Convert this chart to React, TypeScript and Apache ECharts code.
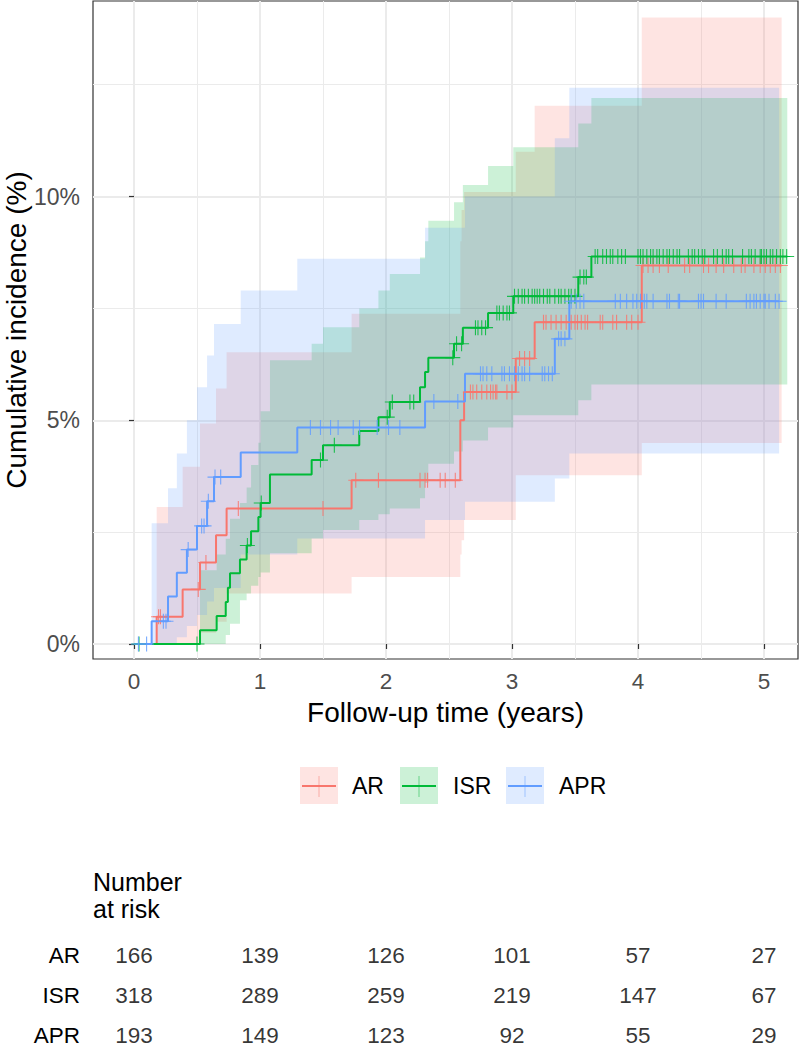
import React, { useEffect, useRef } from 'react';
import * as echarts from 'echarts';

const FONT = '"Liberation Sans", Arial, Helvetica, sans-serif';

const GROUPS = ['AR', 'ISR', 'APR'];
const COLORS = ['#F8766D', '#00BA38', '#619CFF'];
const BAND_FILLS = ['rgba(248,118,109,0.2)', 'rgba(0,186,56,0.2)', 'rgba(97,156,255,0.2)'];

const X_TICKS = [0, 1, 2, 3, 4, 5];
const X_MINOR = [0.5, 1.5, 2.5, 3.5, 4.5];
const Y_TICKS = [0, 5, 10];
const Y_MINOR = [2.5, 7.5, 12.5];
const X_MIN = -0.3254;
const X_MAX = 5.27;
const Y_MIN = -0.335;
const Y_MAX = 14.37;

// Step curves (time in years, cumulative incidence in %)
const AR_T = [0, 0.18, 0.386, 0.524, 0.651, 0.735, 1.727, 2.59, 2.62, 3.03, 3.18, 4.03, 5.14];
const AR_EST = [0, 0.61, 1.22, 1.82, 2.43, 3.03, 3.66, 5.0, 5.63, 6.38, 7.19, 8.46, 8.46];
const ISR_T = [0, 0.524, 0.656, 0.728, 0.745, 0.762, 0.841, 0.894, 0.929, 0.987, 1.005, 1.079, 1.41, 1.5, 1.788, 1.94, 2.03, 2.27, 2.31, 2.336, 2.54, 2.61, 2.81, 3.01, 3.526, 3.63, 5.185];
const ISR_EST = [0, 0.31, 0.625, 0.94, 1.26, 1.58, 1.89, 2.2, 2.52, 2.84, 3.15, 3.79, 4.11, 4.44, 4.76, 5.07, 5.41, 5.74, 6.08, 6.4, 6.71, 7.07, 7.4, 7.77, 8.2, 8.66, 8.66];
const APR_T = [0, 0.14, 0.27, 0.34, 0.42, 0.5, 0.58, 0.635, 0.847, 1.296, 2.31, 2.627, 3.34, 3.455, 5.12];
const APR_EST = [0, 0.51, 1.06, 1.59, 2.11, 2.64, 3.19, 3.73, 4.28, 4.84, 5.42, 6.04, 6.82, 7.66, 7.66];

// Confidence bands (step after), last time = end of band
const AR_BAND_T = [0.18, 0.386, 0.524, 0.651, 0.735, 1.727, 2.59, 2.6, 2.62, 3.03, 3.18, 4.03, 5.14];
const AR_BAND_LO = [0, 0, 0.25, 0.5, 1.13, 1.5, 2.0, 2.32, 2.77, 3.77, 3.77, 4.49, 4.49];
const AR_BAND_HI = [3.06, 3.96, 4.93, 5.71, 6.52, 7.38, 9.0, 9.7, 10.1, 11.0, 12.03, 14.0, 14.0];
const ISR_BAND_T = [0.524, 0.656, 0.728, 0.762, 0.841, 0.894, 0.929, 0.987, 1.005, 1.079, 1.41, 1.5, 1.788, 1.94, 2.03, 2.27, 2.31, 2.336, 2.54, 2.61, 2.81, 3.01, 3.526, 3.63, 5.185];
const ISR_BAND_LO = [0, 0, 0.2, 0.45, 0.98, 1.13, 1.3, 1.5, 1.6, 2.03, 2.36, 2.55, 2.77, 2.9, 3.03, 3.26, 3.6, 4.03, 4.3, 4.55, 4.84, 5.11, 5.45, 5.8, 5.8];
const ISR_BAND_HI = [1.65, 2.0, 2.35, 2.8, 3.15, 3.5, 4.0, 4.5, 5.2, 6.34, 6.71, 7.08, 7.5, 7.9, 8.27, 8.64, 9.0, 9.46, 9.87, 10.26, 10.68, 11.1, 11.63, 12.2, 12.2];
const APR_BAND_T = [0.14, 0.27, 0.34, 0.42, 0.5, 0.58, 0.635, 0.847, 1.296, 2.31, 2.627, 3.34, 3.455, 5.12];
const APR_BAND_LO = [0, 0, 0.15, 0.4, 0.65, 0.95, 1.25, 2.0, 2.36, 2.77, 3.18, 3.7, 4.26, 4.26];
const APR_BAND_HI = [2.7, 3.48, 4.26, 5.0, 5.74, 6.45, 7.15, 7.9, 8.61, 9.3, 10.0, 11.3, 12.43, 12.43];

// Censoring times
const AR_CENS = [0.195, 0.21, 0.51, 0.571, 0.828, 1.5, 1.76, 1.94, 2.27, 2.31, 2.33, 2.43, 2.47, 2.55, 2.67, 2.69, 2.72, 2.76, 2.8, 2.83, 2.85, 2.87, 2.88, 2.96, 3.0, 3.06, 3.1, 3.14, 3.25, 3.27, 3.31, 3.35, 3.39, 3.43, 3.47, 3.5, 3.52, 3.55, 3.58, 3.6, 3.7, 3.72, 3.8, 3.83, 3.91, 3.95, 4.0, 4.04, 4.08, 4.12, 4.17, 4.24, 4.37, 4.41, 4.52, 4.56, 4.62, 4.68, 4.76, 4.82, 4.85, 4.92, 4.97, 5.01, 5.05, 5.09, 5.13];
const ISR_CENS = [0.04, 0.5, 0.9, 1.01, 1.48, 1.59, 2.01, 2.05, 2.19, 2.22, 2.53, 2.56, 2.6, 2.71, 2.73, 2.76, 2.79, 2.88, 2.9, 2.93, 2.96, 2.98, 3.02, 3.05, 3.08, 3.1, 3.13, 3.16, 3.18, 3.2, 3.22, 3.25, 3.28, 3.3, 3.34, 3.37, 3.39, 3.42, 3.45, 3.47, 3.5, 3.54, 3.57, 3.59, 3.66, 3.68, 3.72, 3.75, 3.78, 3.8, 3.84, 3.87, 3.9, 4.0, 4.02, 4.04, 4.07, 4.1, 4.12, 4.15, 4.17, 4.2, 4.23, 4.25, 4.28, 4.31, 4.33, 4.4, 4.43, 4.45, 4.48, 4.51, 4.53, 4.6, 4.63, 4.67, 4.7, 4.72, 4.75, 4.83, 4.88, 4.9, 4.93, 4.97, 4.98, 5.0, 5.02, 5.05, 5.07, 5.1, 5.13, 5.15, 5.18];
const APR_CENS = [0.035, 0.1, 0.233, 0.254, 0.43, 0.537, 0.556, 0.59, 0.643, 0.688, 1.4, 1.48, 1.56, 1.62, 1.74, 1.79, 1.93, 2.02, 2.11, 2.38, 2.57, 2.75, 2.77, 2.8, 2.84, 2.92, 2.94, 2.98, 3.02, 3.05, 3.08, 3.1, 3.14, 3.24, 3.26, 3.29, 3.32, 3.37, 3.39, 3.42, 3.47, 3.51, 3.54, 3.57, 3.82, 3.86, 3.91, 3.96, 3.99, 4.02, 4.05, 4.07, 4.12, 4.23, 4.25, 4.32, 4.33, 4.48, 4.5, 4.52, 4.62, 4.7, 4.86, 4.89, 4.92, 4.94, 4.97, 5.0, 5.01, 5.04, 5.09, 5.12];

// Number at risk
const RISK_TIMES = [0, 1, 2, 3, 4, 5];
const AR_RISK = [166, 139, 126, 101, 57, 27];
const ISR_RISK = [318, 289, 259, 219, 147, 67];
const APR_RISK = [193, 149, 123, 92, 55, 29];

const CURVES = [
  { t: AR_T, est: AR_EST, bt: AR_BAND_T, lo: AR_BAND_LO, hi: AR_BAND_HI, cens: AR_CENS, risk: AR_RISK },
  { t: ISR_T, est: ISR_EST, bt: ISR_BAND_T, lo: ISR_BAND_LO, hi: ISR_BAND_HI, cens: ISR_CENS, risk: ISR_RISK },
  { t: APR_T, est: APR_EST, bt: APR_BAND_T, lo: APR_BAND_LO, hi: APR_BAND_HI, cens: APR_CENS, risk: APR_RISK },
];

function stepValue(ts: number[], vs: number[], t: number) {
  let v = vs[0];
  for (let i = 0; i < ts.length; i++) {
    if (ts[i] <= t) v = vs[i];
  }
  return v;
}

export default function App() {
  const ref = useRef<HTMLDivElement>(null);
  useEffect(() => {
    if (!ref.current) return;
    const chart = echarts.init(ref.current, null, { renderer: 'svg' });

    const bandSeries = CURVES.map((c, gi) => ({
      type: 'custom',
      name: GROUPS[gi] + ' CI',
      xAxisIndex: 0,
      yAxisIndex: 0,
      coordinateSystem: 'cartesian2d',
      silent: true,
      clip: true,
      z: 2,
      data: [[0, 0]],
      encode: { x: 0, y: 1 },
      renderItem: (params: any, api: any) => {
        const upper: number[][] = [];
        const lower: number[][] = [];
        for (let i = 0; i < c.bt.length - 1; i++) {
          const t0 = c.bt[i];
          const t1 = c.bt[i + 1];
          upper.push(api.coord([t0, c.hi[i]]), api.coord([t1, c.hi[i]]));
          lower.push(api.coord([t0, c.lo[i]]), api.coord([t1, c.lo[i]]));
        }
        const points = upper.concat(lower.reverse());
        return { type: 'polygon', shape: { points }, style: { fill: BAND_FILLS[gi], stroke: null } };
      },
    }));

    const lineSeries = CURVES.map((c, gi) => ({
      type: 'line',
      name: GROUPS[gi],
      xAxisIndex: 0,
      yAxisIndex: 0,
      step: 'end',
      showSymbol: false,
      silent: true,
      z: 3,
      lineStyle: { color: COLORS[gi], width: 2 },
      data: c.t.map((t, i) => [t, c.est[i]]),
    }));

    const censSeries = CURVES.map((c, gi) => ({
      type: 'scatter',
      name: GROUPS[gi] + ' censored',
      xAxisIndex: 0,
      yAxisIndex: 0,
      silent: true,
      z: 4,
      symbol: 'path://M5,0L5,10M0,5L10,5',
      symbolSize: 15,
      itemStyle: { color: 'rgba(0,0,0,0)', borderColor: COLORS[gi], borderWidth: 1.1, opacity: 0.85 },
      data: c.cens.map((t) => [t, stepValue(c.t, c.est, t)]),
    }));

    const riskData: any[] = [];
    CURVES.forEach((c, gi) => {
      RISK_TIMES.forEach((t, i) => riskData.push([t, gi, c.risk[i]]));
    });

    const graphicEls: any[] = [];
    const keyX = [300, 400, 506];
    const textX = [352, 453, 559];
    GROUPS.forEach((g, gi) => {
      graphicEls.push({ type: 'rect', shape: { x: keyX[gi], y: 767, width: 38, height: 37 }, style: { fill: BAND_FILLS[gi] } });
      graphicEls.push({ type: 'line', shape: { x1: keyX[gi] + 2, y1: 786, x2: keyX[gi] + 36, y2: 786 }, style: { stroke: COLORS[gi], lineWidth: 2 } });
      graphicEls.push({ type: 'line', shape: { x1: keyX[gi] + 19, y1: 776, x2: keyX[gi] + 19, y2: 797 }, style: { stroke: COLORS[gi], lineWidth: 1, opacity: 0.5 } });
      graphicEls.push({ type: 'text', style: { text: g, x: textX[gi], y: 786, verticalAlign: 'middle', fill: '#000', fontSize: 23, fontFamily: FONT } });
    });
    // y-axis title
    graphicEls.push({
      type: 'text',
      x: 16,
      y: 330,
      rotation: Math.PI / 2,
      style: {
        text: 'Cumulative incidence (%)',
        x: 0,
        y: 0,
        align: 'center',
        verticalAlign: 'middle',
        fill: '#000',
        fontSize: 28,
        fontFamily: FONT,
      },
    });

    const option: any = {
      animation: false,
      backgroundColor: '#ffffff',
      textStyle: { fontFamily: FONT },
      title: {
        text: 'Number\nat risk',
        left: 93,
        top: 868,
        padding: 0,
        textStyle: { fontSize: 25, fontWeight: 'normal', lineHeight: 27, color: '#000', fontFamily: FONT },
      },
      grid: [
        { left: 93, top: 1, width: 705, height: 658, show: true, borderColor: '#333333', borderWidth: 1.2, backgroundColor: 'rgba(0,0,0,0)', containLabel: false, outerBoundsMode: 'none' },
        { left: 93, top: 935, width: 705, height: 120, show: false, containLabel: false, outerBoundsMode: 'none' },
      ],
      xAxis: [
        {
          type: 'value', gridIndex: 0, min: X_MIN, max: X_MAX,
          axisLine: { show: false },
          axisTick: { show: true, length: 5, customValues: X_TICKS, lineStyle: { color: '#333333', width: 1.2 } },
          axisLabel: { customValues: X_TICKS, color: '#4D4D4D', fontSize: 22.5, margin: 11, fontFamily: FONT, formatter: (v: number) => String(v) },
          splitLine: { show: true, lineStyle: { color: '#EBEBEB', width: 2 } },
          name: 'Follow-up time (years)',
          nameLocation: 'middle',
          nameGap: 39,
          nameTextStyle: { fontSize: 28, color: '#000', fontFamily: FONT },
        },
        {
          type: 'value', gridIndex: 0, min: X_MIN, max: X_MAX, position: 'bottom',
          axisLine: { show: false },
          axisTick: { show: false, customValues: X_MINOR },
          axisLabel: { show: false },
          splitLine: { show: true, lineStyle: { color: '#EBEBEB', width: 1 } },
        },
        { type: 'value', gridIndex: 1, min: X_MIN, max: X_MAX, show: false },
      ],
      yAxis: [
        {
          type: 'value', gridIndex: 0, min: Y_MIN, max: Y_MAX,
          axisLine: { show: false },
          axisTick: { show: true, length: 5, customValues: Y_TICKS, lineStyle: { color: '#333333', width: 1.2 } },
          axisLabel: { customValues: Y_TICKS, color: '#4D4D4D', fontSize: 23, margin: 13, fontFamily: FONT, formatter: (v: number) => v + '%' },
          splitLine: { show: true, lineStyle: { color: '#EBEBEB', width: 2 } },
        },
        {
          type: 'value', gridIndex: 0, min: Y_MIN, max: Y_MAX, position: 'left',
          axisLine: { show: false },
          axisTick: { show: false, customValues: Y_MINOR },
          axisLabel: { show: false },
          splitLine: { show: true, lineStyle: { color: '#EBEBEB', width: 1 } },
        },
        {
          type: 'category', gridIndex: 1, data: GROUPS, inverse: true,
          axisLine: { show: false },
          axisTick: { show: false },
          axisLabel: { color: '#000', fontSize: 22.5, lineHeight: 22, margin: 13, fontFamily: FONT },
          splitLine: { show: false },
        },
      ],
      series: [
        ...bandSeries,
        ...lineSeries,
        ...censSeries,
        {
          type: 'scatter',
          name: 'risk',
          xAxisIndex: 2,
          yAxisIndex: 2,
          silent: true,
          symbolSize: 1,
          itemStyle: { color: 'rgba(0,0,0,0)' },
          label: {
            show: true,
            position: 'inside',
            color: '#000',
            fontSize: 22.5,
            lineHeight: 22,
            fontFamily: FONT,
            formatter: (p: any) => String(p.value[2]),
          },
          data: riskData,
        },
      ],
      graphic: graphicEls,
    };

    chart.setOption(option);
    return () => chart.dispose();
  }, []);

  return (
    <div
      ref={ref}
      style={{ position: 'absolute', left: 0, top: 0, width: 800, height: 1047, background: '#fff' }}
    />
  );
}
